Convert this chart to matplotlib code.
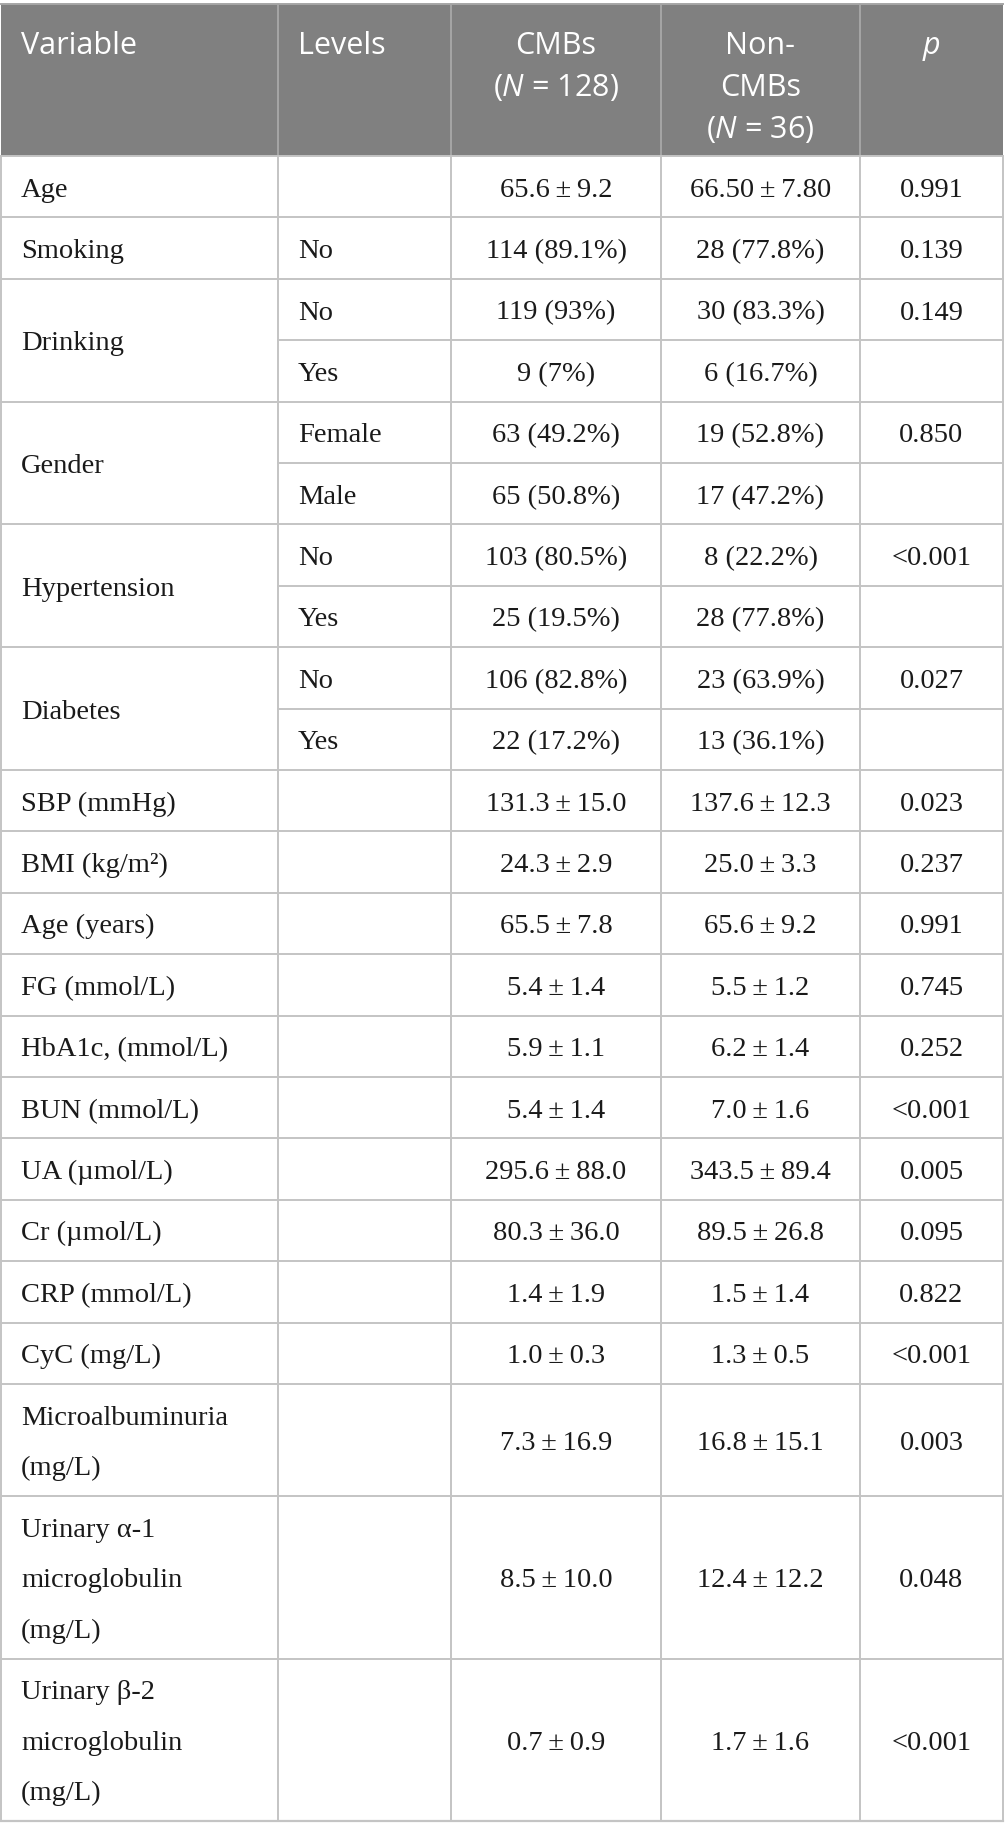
import matplotlib
matplotlib.use("Agg")
import matplotlib.pyplot as plt
from matplotlib.patches import Rectangle

# Table content, one entry per body row (None = continuation of a merged Variable cell)
row_vars = ["Age", "Smoking", "Drinking", None, "Gender", None, "Hypertension", None,
            "Diabetes", None, "SBP (mmHg)", "BMI (kg/m²)", "Age (years)", "FG (mmol/L)",
            "HbA1c, (mmol/L)", "BUN (mmol/L)", "UA (µmol/L)", "Cr (µmol/L)", "CRP (mmol/L)",
            "CyC (mg/L)", "Microalbuminuria\n(mg/L)", "Urinary α-1\nmicroglobulin\n(mg/L)",
            "Urinary β-2\nmicroglobulin\n(mg/L)"]
row_levels = ["", "No", "No", "Yes", "Female", "Male", "No", "Yes", "No", "Yes",
              "", "", "", "", "", "", "", "", "", "", "", "", ""]
cmbs = ["65.6 ± 9.2", "114 (89.1%)", "119 (93%)", "9 (7%)", "63 (49.2%)", "65 (50.8%)",
        "103 (80.5%)", "25 (19.5%)", "106 (82.8%)", "22 (17.2%)", "131.3 ± 15.0",
        "24.3 ± 2.9", "65.5 ± 7.8", "5.4 ± 1.4", "5.9 ± 1.1", "5.4 ± 1.4", "295.6 ± 88.0",
        "80.3 ± 36.0", "1.4 ± 1.9", "1.0 ± 0.3", "7.3 ± 16.9", "8.5 ± 10.0", "0.7 ± 0.9"]
non_cmbs = ["66.50 ± 7.80", "28 (77.8%)", "30 (83.3%)", "6 (16.7%)", "19 (52.8%)",
            "17 (47.2%)", "8 (22.2%)", "28 (77.8%)", "23 (63.9%)", "13 (36.1%)",
            "137.6 ± 12.3", "25.0 ± 3.3", "65.6 ± 9.2", "5.5 ± 1.2", "6.2 ± 1.4",
            "7.0 ± 1.6", "343.5 ± 89.4", "89.5 ± 26.8", "1.5 ± 1.4", "1.3 ± 0.5",
            "16.8 ± 15.1", "12.4 ± 12.2", "1.7 ± 1.6"]
p_values = ["0.991", "0.139", "0.149", "", "0.850", "", "<0.001", "", "0.027", "",
            "0.023", "0.237", "0.991", "0.745", "0.252", "<0.001", "0.005", "0.095",
            "0.822", "<0.001", "0.003", "0.048", "<0.001"]

header_lines = [["Variable"], ["Levels"], ["CMBs", "($\\mathit{N}$ = 128)"],
                ["Non-", "CMBs", "($\\mathit{N}$ = 36)"], ["$\\mathit{p}$"]]

# Layout (pixels)
W, H = 1005, 1839
col_x = [1, 278, 451, 661, 860, 1003]
top = 4
header_h = 152
row_h = 61.4
line_h = 50.6
pad = 20

header_bg = "#808080"
header_sep = "#a6a6a6"
grid_col = "#c4c4c4"
text_col = "#1a1a1a"

plt.rcParams["mathtext.fontset"] = "custom"
plt.rcParams["mathtext.rm"] = "Open Sans"
plt.rcParams["mathtext.it"] = "Open Sans:italic"

serif = ["Liberation Serif", "DejaVu Serif"]
sans = ["Open Sans", "DejaVu Sans"]
body_size = 20.5
head_size = 22

fig = plt.figure(figsize=(W / 100, H / 100), dpi=100)
ax = fig.add_axes([0, 0, 1, 1])
ax.set_xlim(0, W)
ax.set_ylim(H, 0)
ax.axis("off")

# header
ax.add_patch(Rectangle((col_x[0], top), col_x[-1] - col_x[0], header_h,
                       facecolor=header_bg, edgecolor="none"))
ax.plot([col_x[0], col_x[-1]], [top, top], color=header_sep, lw=1.4)
for x in col_x[1:-1]:
    ax.plot([x, x], [top, top + header_h], color=header_sep, lw=1.4)
for j, lines in enumerate(header_lines):
    for k, s in enumerate(lines):
        y = top + 50 + k * 42
        if j < 2:
            ax.text(col_x[j] + pad, y, s, ha="left", va="baseline", color="white",
                    family=sans, fontsize=head_size)
        else:
            ax.text((col_x[j] + col_x[j + 1]) / 2, y, s, ha="center", va="baseline",
                    color="white", family=sans, fontsize=head_size)

# body row geometry
n_lines = [1 if v is None else v.count("\n") + 1 for v in row_vars]
heights = [row_h + line_h * (n - 1) for n in n_lines]
y_tops = [top + header_h]
for h in heights:
    y_tops.append(y_tops[-1] + h)
body_top = y_tops[0]
body_bot = y_tops[-1]

# merged variable cells
groups = []
for i, v in enumerate(row_vars):
    if v is not None:
        groups.append([v, i, i + 1])
    else:
        groups[-1][2] = i + 1


def draw_lines(cx, ymid, s, ha):
    parts = s.replace(" ± ", "\u2009±\u2009").split("\n")
    n = len(parts)
    for k, part in enumerate(parts):
        yc = ymid + (k - (n - 1) / 2) * line_h
        ax.text(cx, yc + 10, part, ha=ha, va="baseline", color=text_col,
                family=serif, fontsize=body_size)


for label, i0, i1 in groups:
    ymid = (y_tops[i0] + y_tops[i1]) / 2
    draw_lines(col_x[0] + pad, ymid, label, "left")

for i in range(len(row_vars)):
    ymid = (y_tops[i] + y_tops[i + 1]) / 2
    if row_levels[i]:
        draw_lines(col_x[1] + pad, ymid, row_levels[i], "left")
    for j, col in enumerate([cmbs, non_cmbs, p_values]):
        if col[i]:
            draw_lines((col_x[j + 2] + col_x[j + 3]) / 2, ymid, col[i], "center")

# grid lines
group_starts = {g[1] for g in groups}
for i in range(1, len(row_vars)):
    x0 = col_x[0] if i in group_starts else col_x[1]
    ax.plot([x0, col_x[-1]], [y_tops[i], y_tops[i]], color=grid_col, lw=1.4)
ax.plot([col_x[0], col_x[-1]], [body_bot, body_bot], color=grid_col, lw=1.6)
ax.plot([col_x[0], col_x[-1]], [body_top, body_top], color=grid_col, lw=1.4)
for x in col_x:
    ax.plot([x, x], [body_top, body_bot], color=grid_col, lw=1.4)

fig.savefig("out.png", dpi=100)
